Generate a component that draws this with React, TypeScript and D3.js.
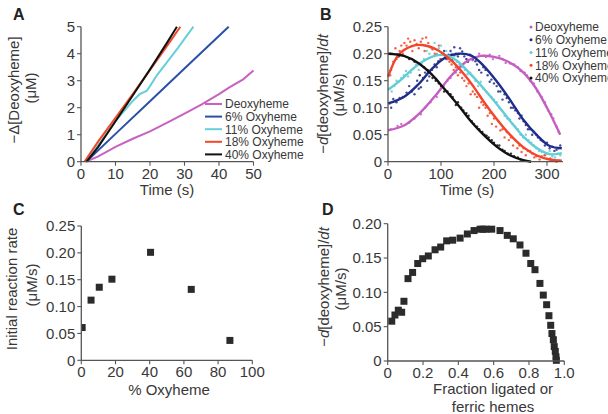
import React from 'react';
import * as d3 from 'd3';

const FONT = "'Liberation Sans', Arial, Helvetica, sans-serif";
const AXIS = '#555';
const TXT = '#383838';

// ---------- Panel A data ----------
const aLabels = ['Deoxyheme', '6% Oxyheme', '11% Oxyheme', '18% Oxyheme', '40% Oxyheme'];
const aColors = ['#c862c2', '#2b50a8', '#66d0d8', '#f2482a', '#111111'];
const aDeoxy: [number, number][] = [[1.5, 0], [5, 0.2], [10, 0.55], [15, 0.85], [20, 1.12], [25, 1.45], [30, 1.78], [35, 2.12], [40, 2.5], [43, 2.75], [47, 3.05], [50, 3.38]];
const aOxy6: [number, number][] = [[1.5, 0], [10, 1.03], [20, 2.24], [30, 3.45], [42.8, 5]];
const aOxy11: [number, number][] = [[1.5, 0], [5, 0.62], [10, 1.5], [15, 2.25], [17, 2.5], [19, 2.62], [20, 2.8], [22, 3.2], [25, 3.7], [28, 4.2], [30, 4.55], [32.6, 5]];
const aOxy18: [number, number][] = [[1, 0], [5, 0.75], [10, 1.62], [15, 2.5], [20, 3.4], [25, 4.3], [28.8, 5]];
const aOxy40: [number, number][] = [[1.6, 0], [5, 0.55], [10, 1.5], [15, 2.45], [20, 3.42], [25, 4.42], [27.8, 5]];
const aSeries = [aDeoxy, aOxy6, aOxy11, aOxy18, aOxy40];
const aXTicks = [0, 10, 20, 30, 40, 50];
const aYTicks = [0, 1, 2, 3, 4, 5];

// ---------- Panel B data ----------
const bColors = ['#c45ec0', '#1e2d8a', '#62cdd6', '#f2452a', '#111111'];
const bDeoxyFit: [number, number][] = [[0, 0.058], [30, 0.067], [60, 0.09], [90, 0.123], [120, 0.16], [150, 0.187], [175, 0.196], [200, 0.194], [225, 0.186], [250, 0.17], [275, 0.142], [300, 0.1], [325, 0.05]];
const bOxy6Fit: [number, number][] = [[0, 0.108], [30, 0.12], [57, 0.143], [82, 0.171], [107, 0.192], [133, 0.2], [158, 0.196], [180, 0.178], [205, 0.149], [230, 0.115], [255, 0.078], [280, 0.05], [305, 0.029], [328, 0.025]];
const bOxy11Fit: [number, number][] = [[0, 0.133], [26, 0.153], [57, 0.18], [88, 0.196], [110, 0.197], [130, 0.187], [155, 0.163], [180, 0.136], [205, 0.107], [230, 0.076], [255, 0.047], [280, 0.026], [305, 0.014], [328, 0.016]];
const bOxy18Fit: [number, number][] = [[0, 0.157], [20, 0.198], [45, 0.214], [65, 0.216], [95, 0.206], [120, 0.187], [145, 0.16], [165, 0.134], [180, 0.112], [205, 0.079], [230, 0.05], [255, 0.027], [280, 0.012], [305, 0.004], [328, 0.002]];
const bOxy40Fit: [number, number][] = [[0, 0.2], [30, 0.196], [57, 0.183], [82, 0.162], [107, 0.134], [133, 0.104], [158, 0.073], [180, 0.05], [205, 0.028], [230, 0.012], [255, 0.003], [270, 0]];
const bFits = [bDeoxyFit, bOxy6Fit, bOxy11Fit, bOxy18Fit, bOxy40Fit];

const bDeoxyDots: [number, number][] = [[5, 0.06], [18, 0.066], [25, 0.07], [40, 0.072], [50, 0.08], [62, 0.088], [70, 0.1], [80, 0.11], [92, 0.12], [105, 0.14], [112, 0.15], [118, 0.155], [128, 0.165], [135, 0.172], [142, 0.18], [148, 0.19], [160, 0.188], [166, 0.192], [172, 0.2], [185, 0.194], [192, 0.198], [198, 0.19], [210, 0.196], [216, 0.19], [222, 0.183], [230, 0.182], [238, 0.18], [245, 0.175], [250, 0.168], [258, 0.165], [262, 0.16], [268, 0.15], [275, 0.145], [282, 0.13], [290, 0.12], [296, 0.11], [302, 0.095], [308, 0.088], [312, 0.08], [318, 0.065], [322, 0.055]];
const bOxy6Dots: [number, number][] = [[3, 0.108], [6, 0.1], [10, 0.116], [16, 0.11], [22, 0.118], [28, 0.12], [35, 0.128], [40, 0.14], [45, 0.13], [50, 0.125], [55, 0.15], [58, 0.135], [62, 0.138], [66, 0.155], [70, 0.165], [74, 0.15], [78, 0.158], [83, 0.17], [88, 0.18], [92, 0.175], [95, 0.186], [99, 0.19], [102, 0.2], [106, 0.205], [110, 0.19], [114, 0.198], [118, 0.205], [121, 0.188], [125, 0.212], [128, 0.2], [132, 0.195], [136, 0.21], [140, 0.204], [144, 0.195], [148, 0.19], [151, 0.185], [155, 0.198], [160, 0.19], [165, 0.186], [168, 0.18], [172, 0.17], [176, 0.165], [180, 0.175], [184, 0.17], [188, 0.16], [192, 0.148], [195, 0.152], [200, 0.145], [205, 0.14], [208, 0.13], [212, 0.13], [216, 0.115], [220, 0.125], [224, 0.118], [228, 0.11], [232, 0.1], [236, 0.1], [240, 0.095], [245, 0.09], [248, 0.08], [252, 0.085], [256, 0.075], [260, 0.068], [264, 0.06], [268, 0.06], [272, 0.05], [275, 0.055], [280, 0.05], [283, 0.045], [288, 0.04], [292, 0.038], [296, 0.03], [300, 0.035], [305, 0.025], [310, 0.028], [314, 0.02], [318, 0.022], [322, 0.025], [325, 0.03]];
const bOxy11Dots: [number, number][] = [[3, 0.135], [7, 0.13], [12, 0.14], [16, 0.15], [20, 0.148], [25, 0.155], [30, 0.16], [34, 0.168], [38, 0.158], [43, 0.165], [48, 0.172], [53, 0.18], [58, 0.17], [63, 0.182], [68, 0.19], [73, 0.205], [78, 0.2], [83, 0.21], [88, 0.22], [92, 0.2], [96, 0.21], [100, 0.215], [105, 0.2], [110, 0.205], [115, 0.19], [120, 0.2], [125, 0.195], [130, 0.185], [135, 0.18], [140, 0.175], [145, 0.17], [150, 0.162], [155, 0.165], [160, 0.158], [165, 0.15], [170, 0.14], [175, 0.148], [180, 0.135], [185, 0.13], [190, 0.125], [195, 0.12], [200, 0.115], [205, 0.11], [210, 0.1], [215, 0.095], [220, 0.085], [225, 0.08], [230, 0.078], [235, 0.07], [240, 0.065], [245, 0.06], [250, 0.05], [255, 0.045], [260, 0.05], [265, 0.04], [270, 0.035], [275, 0.03], [280, 0.025], [285, 0.02], [290, 0.018], [295, 0.012], [300, 0.015], [305, 0.02], [310, 0.01], [315, 0.008], [320, 0.015], [325, 0.012]];
const bOxy18Dots: [number, number][] = [[2, 0.2], [4, 0.16], [6, 0.17], [8, 0.2], [10, 0.185], [14, 0.21], [16, 0.19], [19, 0.195], [22, 0.205], [25, 0.215], [28, 0.2], [31, 0.22], [35, 0.215], [38, 0.228], [42, 0.222], [46, 0.205], [50, 0.225], [54, 0.218], [58, 0.21], [62, 0.222], [65, 0.228], [69, 0.205], [72, 0.23], [76, 0.22], [80, 0.212], [84, 0.208], [88, 0.2], [92, 0.198], [96, 0.215], [100, 0.19], [104, 0.2], [108, 0.195], [112, 0.19], [116, 0.185], [120, 0.18], [124, 0.17], [128, 0.175], [132, 0.16], [136, 0.165], [140, 0.155], [144, 0.15], [148, 0.14], [152, 0.145], [156, 0.125], [160, 0.13], [164, 0.125], [168, 0.12], [172, 0.1], [176, 0.11], [180, 0.105], [184, 0.1], [188, 0.085], [192, 0.09], [196, 0.07], [200, 0.08], [204, 0.065], [208, 0.075], [212, 0.058], [216, 0.06], [220, 0.045], [224, 0.055], [228, 0.04], [232, 0.045], [236, 0.03], [240, 0.04], [244, 0.025], [248, 0.03], [252, 0.018], [256, 0.025], [260, 0.012], [264, 0.02], [268, 0.02], [272, 0.015], [276, 0.008], [280, 0.01], [286, 0.004], [290, 0.01], [296, 0.012], [300, 0.005], [306, 0.006], [312, 0.003], [318, 0.0], [322, 0.002]];
const bOxy40Dots: [number, number][] = [[5, 0.2], [20, 0.195], [40, 0.19], [50, 0.185], [60, 0.16], [68, 0.175], [75, 0.17], [84, 0.155], [90, 0.15], [96, 0.145], [100, 0.14], [106, 0.13], [112, 0.13], [118, 0.125], [122, 0.12], [128, 0.105], [132, 0.11], [138, 0.1], [142, 0.095], [148, 0.09], [152, 0.085], [158, 0.075], [162, 0.07], [168, 0.065], [172, 0.06], [178, 0.055], [182, 0.05], [186, 0.048], [190, 0.045], [196, 0.04], [200, 0.035], [206, 0.03], [210, 0.03], [216, 0.022], [220, 0.02], [226, 0.015], [232, 0.015], [238, 0.01], [245, 0.008], [250, 0.004], [255, 0.002]];
const bDots = [bDeoxyDots, bOxy6Dots, bOxy11Dots, bOxy18Dots, bOxy40Dots];
const bXTicks = [0, 100, 200, 300];
const bYTicks = [0, 0.05, 0.1, 0.15, 0.2, 0.25];
const bYLabels = ['0', '0.05', '0.10', '0.15', '0.20', '0.25'];

// ---------- Panel C data ----------
const cOxy = [0.5, 5.7, 10.5, 17.9, 40.5, 64.3, 86.9];
const cRate = [0.061, 0.112, 0.136, 0.151, 0.201, 0.132, 0.037];
const cXTicks = [0, 20, 40, 60, 80, 100];

// ---------- Panel D data ----------
const dFrac = [0.023, 0.041, 0.06, 0.079, 0.092, 0.115, 0.141, 0.17, 0.198, 0.23, 0.268, 0.3, 0.334, 0.368, 0.41, 0.451, 0.489, 0.523, 0.54, 0.557, 0.589, 0.636, 0.677, 0.711, 0.749, 0.783, 0.81, 0.834, 0.862, 0.881, 0.9, 0.913, 0.923, 0.93, 0.938, 0.943, 0.949, 0.953, 0.955];
const dRate = [0.058, 0.067, 0.074, 0.071, 0.087, 0.12, 0.129, 0.142, 0.149, 0.153, 0.162, 0.166, 0.175, 0.176, 0.179, 0.185, 0.19, 0.192, 0.192, 0.192, 0.192, 0.19, 0.183, 0.178, 0.169, 0.157, 0.142, 0.133, 0.113, 0.096, 0.082, 0.066, 0.052, 0.04, 0.031, 0.021, 0.014, 0.006, 0.001];
const dXTicks = [0, 0.2, 0.4, 0.6, 0.8, 1.0];
const dXLabels = ['0', '0.2', '0.4', '0.6', '0.8', '1.0'];
const dYTicks = [0, 0.05, 0.1, 0.15, 0.2];
const dYLabels = ['0', '0.05', '0.10', '0.15', '0.20'];

type Scale = d3.ScaleLinear<number, number>;

function XAxis({ scale, y, ticks, labels }: { scale: Scale; y: number; ticks: number[]; labels: string[] }) {
  const [r0, r1] = scale.range();
  return (
    <g>
      <line x1={r0} x2={r1} y1={y} y2={y} stroke={AXIS} strokeWidth={1.3} />
      {ticks.map((t, i) => (
        <g key={i}>
          <line x1={scale(t)} x2={scale(t)} y1={y} y2={y + 4} stroke={AXIS} strokeWidth={1.1} />
          <text x={scale(t)} y={y + 17} textAnchor="middle" fontSize={15} fill={TXT}>{labels[i]}</text>
        </g>
      ))}
    </g>
  );
}

function YAxis({ scale, x, ticks, labels }: { scale: Scale; x: number; ticks: number[]; labels: string[] }) {
  const [r0, r1] = scale.range();
  return (
    <g>
      <line x1={x} x2={x} y1={r0} y2={r1} stroke={AXIS} strokeWidth={1.3} />
      {ticks.map((t, i) => (
        <g key={i}>
          <line x1={x - 4} x2={x} y1={scale(t)} y2={scale(t)} stroke={AXIS} strokeWidth={1.1} />
          <text x={x - 6} y={scale(t)} dy="0.36em" textAnchor="end" fontSize={15} fill={TXT}>{labels[i]}</text>
        </g>
      ))}
    </g>
  );
}

function VTitle({ x, y, children }: { x: number; y: number; children: React.ReactNode }) {
  return (
    <text transform={`translate(${x},${y}) rotate(-90)`} textAnchor="middle" dy="0.35em" fontSize={15} fill={TXT}>{children}</text>
  );
}

export default function App() {
  const xA = d3.scaleLinear().domain([0, 50]).range([81, 253.5]);
  const yA = d3.scaleLinear().domain([0, 5]).range([161.7, 26.7]);
  const lineA = d3.line<[number, number]>().x(d => xA(d[0])).y(d => yA(d[1]));

  const xB = d3.scaleLinear().domain([0, 330]).range([388, 562.9]);
  const yB = d3.scaleLinear().domain([0, 0.25]).range([161.7, 26.7]);
  const lineB = d3.line<[number, number]>().x(d => xB(d[0])).y(d => yB(d[1])).curve(d3.curveCatmullRom.alpha(0.5));

  const xC = d3.scaleLinear().domain([0, 100]).range([81.3, 252.3]);
  const yC = d3.scaleLinear().domain([0, 0.25]).range([360.3, 226]);

  const xD = d3.scaleLinear().domain([0, 1]).range([387.7, 564.3]);
  const yD = d3.scaleLinear().domain([0, 0.2]).range([361, 223.7]);

  const sq = 7;

  return (
    <svg width={608} height={414} style={{ position: 'absolute', left: 0, top: 0, background: '#fff' }} fontFamily={FONT}>
      <defs>
        <clipPath id="clipC"><rect x={81.3} y={200} width={180} height={162} /></clipPath>
      </defs>
      <rect x={0} y={0} width={608} height={414} fill="#fff" />

      {/* ===== Panel A ===== */}
      <text x={13} y={20} fontSize={16} fontWeight="bold" fill="#222">A</text>
      {aSeries.map((s, i) => (
        <path key={i} d={lineA(s) || ''} fill="none" stroke={aColors[i]} strokeWidth={2} />
      ))}
      <XAxis scale={xA} y={161.7} ticks={aXTicks} labels={aXTicks.map(String)} />
      <YAxis scale={yA} x={81} ticks={aYTicks} labels={aYTicks.map(String)} />
      <text x={167} y={195} textAnchor="middle" fontSize={15} fill={TXT}>Time (s)</text>
      <VTitle x={14} y={90}>−Δ[Deoxyheme]</VTitle>
      <VTitle x={31} y={88}>(μM)</VTitle>
      {aLabels.map((l, i) => (
        <g key={i}>
          <line x1={205} x2={222} y1={104 + i * 12.6} y2={104 + i * 12.6} stroke={aColors[i]} strokeWidth={2} />
          <text x={225} y={104 + i * 12.6} dy="0.36em" fontSize={12} fill={TXT}>{l}</text>
        </g>
      ))}

      {/* ===== Panel B ===== */}
      <text x={320} y={20} fontSize={16} fontWeight="bold" fill="#222">B</text>
      {bDots.map((s, i) => (
        <g key={i}>
          {s.map((d, j) => (
            <circle key={j} cx={xB(d[0])} cy={yB(d[1])} r={1.2} fill={bColors[i]} opacity={0.85} />
          ))}
        </g>
      ))}
      {bFits.map((s, i) => (
        <path key={i} d={lineB(s) || ''} fill="none" stroke={bColors[i]} strokeWidth={2.4} />
      ))}
      <XAxis scale={xB} y={161.7} ticks={bXTicks} labels={bXTicks.map(String)} />
      <YAxis scale={yB} x={388} ticks={bYTicks} labels={bYLabels} />
      <text x={467} y={195} textAnchor="middle" fontSize={15} fill={TXT}>Time (s)</text>
      <VTitle x={323} y={94}>−<tspan fontStyle="italic">d</tspan>[deoxyheme]/<tspan fontStyle="italic">dt</tspan></VTitle>
      <VTitle x={339} y={95}>(μM/s)</VTitle>
      {aLabels.map((l, i) => (
        <g key={i}>
          <circle cx={531} cy={27 + i * 12.75} r={1.5} fill={bColors[i]} />
          <text x={535} y={27 + i * 12.75} dy="0.36em" fontSize={12} fill={TXT}>{l}</text>
        </g>
      ))}

      {/* ===== Panel C ===== */}
      <text x={13} y={215} fontSize={16} fontWeight="bold" fill="#222">C</text>
      <g clipPath="url(#clipC)">
        {cOxy.map((x, i) => (
          <rect key={i} x={xC(x) - sq / 2} y={yC(cRate[i]) - sq / 2} width={sq} height={sq} fill="#2b2b2b" />
        ))}
      </g>
      <XAxis scale={xC} y={360.3} ticks={cXTicks} labels={cXTicks.map(String)} />
      <YAxis scale={yC} x={81.3} ticks={bYTicks} labels={bYLabels} />
      <text x={169} y={395} textAnchor="middle" fontSize={15} fill={TXT}>% Oxyheme</text>
      <VTitle x={12} y={289}>Initial reaction rate</VTitle>
      <VTitle x={32} y={285}>(μM/s)</VTitle>

      {/* ===== Panel D ===== */}
      <text x={322} y={215} fontSize={16} fontWeight="bold" fill="#222">D</text>
      {dFrac.map((x, i) => (
        <rect key={i} x={xD(x) - sq / 2} y={yD(dRate[i]) - sq / 2} width={sq} height={sq} fill="#2b2b2b" />
      ))}
      <XAxis scale={xD} y={361} ticks={dXTicks} labels={dXLabels} />
      <YAxis scale={yD} x={387.7} ticks={dYTicks} labels={dYLabels} />
      <text x={493} y={394} textAnchor="middle" fontSize={15} fill={TXT}>Fraction ligated or</text>
      <text x={493} y={412} textAnchor="middle" fontSize={15} fill={TXT}>ferric hemes</text>
      <VTitle x={324} y={287}>−<tspan fontStyle="italic">d</tspan>[deoxyheme]/<tspan fontStyle="italic">dt</tspan></VTitle>
      <VTitle x={341} y={289}>(μM/s)</VTitle>
    </svg>
  );
}
